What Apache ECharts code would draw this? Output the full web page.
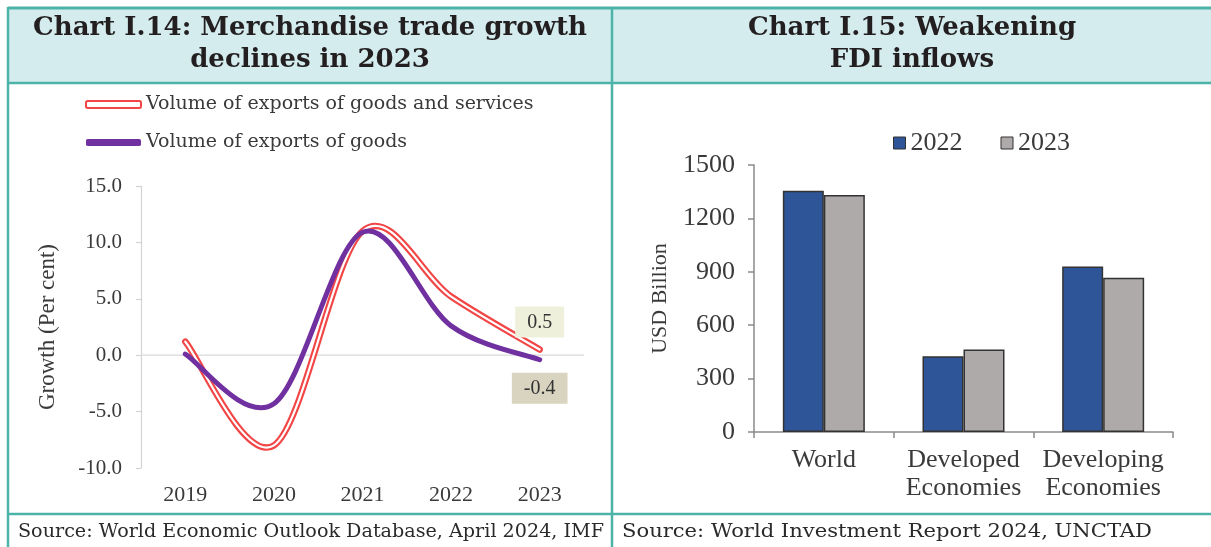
<!DOCTYPE html>
<html>
<head>
<meta charset="utf-8">
<script src="https://cdn.jsdelivr.net/npm/echarts@6/dist/echarts.min.js"></script>
<style>
html,body{margin:0;padding:0;background:#fff;}
#c{width:1211px;height:547px;}
</style>
</head>
<body>
<div id="c"></div>
<script>
// ---- Data ----
const lineCategories = ['2019', '2020', '2021', '2022', '2023'];
const goodsAndServices = [1.2, -8.0, 11.0, 5.2, 0.5];
const goodsOnly = [0.1, -4.3, 10.9, 2.6, -0.4];
const lineSeriesNames = ['Volume of exports of goods and services', 'Volume of exports of goods'];

const barCategories = ['World', 'Developed\nEconomies', 'Developing\nEconomies'];
const fdi2022 = [1356, 426, 930];
const fdi2023 = [1332, 464, 867];
const barSeriesNames = ['2022', '2023'];

const titleLeft = 'Chart I.14: Merchandise trade growth\ndeclines in 2023';
const titleRight = 'Chart I.15: Weakening\nFDI inflows';
const sourceLeft = 'Source: World Economic Outlook Database, April 2024, IMF';
const sourceRight = 'Source: World Investment Report 2024, UNCTAD';
const yNameLeft = 'Growth (Per cent)';
const yNameRight = 'USD Billion';

// ---- Styles ----
const TEAL = '#4bb3a8';
const HEAD_BG = '#d4ecee';
const TXT = '#3a3a3a';
const SERIF = '"Liberation Serif", "Times New Roman", serif';
const RED = '#f24545';
const PURPLE = '#7030a0';

function measure(text, font) {
  const cv = document.createElement('canvas').getContext('2d');
  cv.font = font;
  return cv.measureText(text).width;
}
const footFont = '19px "DejaVu Serif"';
const footScaleL = 586 / measure(sourceLeft, footFont);
const footScaleR = 530 / measure(sourceRight, footFont);

// Excel-like (Catmull-Rom) smoothed path through pixel points
function smoothPath(pts) {
  let d = 'M' + pts[0][0] + ',' + pts[0][1];
  for (let i = 0; i < pts.length - 1; i++) {
    const p0 = pts[Math.max(i - 1, 0)], p1 = pts[i], p2 = pts[i + 1], p3 = pts[Math.min(i + 2, pts.length - 1)];
    const c1 = [p1[0] + (p2[0] - p0[0]) / 6, p1[1] + (p2[1] - p0[1]) / 6];
    const c2 = [p2[0] - (p3[0] - p1[0]) / 6, p2[1] - (p3[1] - p1[1]) / 6];
    d += ' C' + c1[0] + ',' + c1[1] + ' ' + c2[0] + ',' + c2[1] + ' ' + p2[0] + ',' + p2[1];
  }
  return d;
}

function endLabel(pt, text, above, bg) {
  return {
    type: 'text', x: pt[0], y: above ? pt[1] - 12 : pt[1] + 13, z2: 50,
    style: {
      text: text, font: '20px ' + SERIF, fill: '#333',
      align: 'center', verticalAlign: above ? 'bottom' : 'top',
      backgroundColor: bg, padding: [6, 12, 5, 12]
    }
  };
}

const chart = echarts.init(document.getElementById('c'), null, {renderer: 'canvas'});

const option = {
  animation: false,
  backgroundColor: '#fff',
  graphic: [
    {type: 'rect', silent: true, z: -10, shape: {x: 8, y: 8, width: 1203, height: 75}, style: {fill: HEAD_BG}},
    {type: 'line', silent: true, shape: {x1: 8, y1: 8, x2: 1211, y2: 8}, style: {stroke: TEAL, lineWidth: 3}},
    {type: 'line', silent: true, shape: {x1: 8, y1: 83, x2: 1211, y2: 83}, style: {stroke: TEAL, lineWidth: 2.5}},
    {type: 'line', silent: true, shape: {x1: 8, y1: 514, x2: 1211, y2: 514}, style: {stroke: TEAL, lineWidth: 2.5}},
    {type: 'line', silent: true, shape: {x1: 8, y1: 7, x2: 8, y2: 547}, style: {stroke: TEAL, lineWidth: 2.5}},
    {type: 'line', silent: true, shape: {x1: 612, y1: 7, x2: 612, y2: 547}, style: {stroke: TEAL, lineWidth: 2.5}},
    {type: 'text', silent: true, x: 310, y: 44, style: {text: titleLeft, font: '700 26px "DejaVu Serif"', fill: '#231f20', textAlign: 'center', textVerticalAlign: 'middle', lineHeight: 32}},
    {type: 'text', silent: true, x: 912, y: 44, style: {text: titleRight, font: '700 26px "DejaVu Serif"', fill: '#231f20', textAlign: 'center', textVerticalAlign: 'middle', lineHeight: 32}},
    {type: 'text', silent: true, x: 18, y: 532, scaleX: footScaleL, style: {text: sourceLeft, font: footFont, fill: '#2a2a2a', textAlign: 'left', textVerticalAlign: 'middle'}},
    {type: 'text', silent: true, x: 622, y: 532, scaleX: footScaleR, style: {text: sourceRight, font: footFont, fill: '#2a2a2a', textAlign: 'left', textVerticalAlign: 'middle'}}
  ],
  legend: [
    {
      orient: 'vertical', left: 80, top: 90, itemWidth: 55, itemHeight: 7, itemGap: 19,
      textStyle: {fontSize: 19, fontFamily: '"DejaVu Serif"', color: TXT},
      data: [
        {name: lineSeriesNames[0], icon: 'roundRect', itemStyle: {color: '#fff', borderColor: RED, borderWidth: 2}},
        {name: lineSeriesNames[1], icon: 'roundRect', itemStyle: {color: PURPLE, borderWidth: 0}}
      ],
      selectedMode: false
    },
    {
      left: 888, top: 125, itemWidth: 12, itemHeight: 12, itemGap: 38, icon: 'rect',
      textStyle: {fontSize: 26, fontFamily: SERIF, color: TXT},
      itemStyle: {borderColor: '#333', borderWidth: 1},
      data: barSeriesNames, selectedMode: false
    }
  ],
  grid: [
    {left: 141, right: 627, top: 186, bottom: 79},
    {left: 754, right: 38, top: 165, bottom: 115}
  ],
  xAxis: [
    {
      gridIndex: 0, type: 'category', data: lineCategories, boundaryGap: true,
      axisLine: {show: false}, axisTick: {show: false},
      axisLabel: {fontSize: 22, fontFamily: SERIF, color: TXT, margin: 16, interval: 0}
    },
    {
      gridIndex: 1, type: 'category', data: barCategories,
      axisLine: {show: true, lineStyle: {color: '#8a8a8a', width: 1.5}},
      axisTick: {show: true, length: 6, lineStyle: {color: '#8a8a8a', width: 1.5}},
      axisLabel: {fontSize: 26, fontFamily: SERIF, color: TXT, margin: 14, lineHeight: 28, interval: 0, hideOverlap: false}
    }
  ],
  yAxis: [
    {
      gridIndex: 0, type: 'value', min: -10, max: 15, interval: 5,
      name: yNameLeft, nameLocation: 'middle', nameGap: 82, nameRotate: 90,
      nameTextStyle: {fontSize: 23, fontFamily: SERIF, color: TXT},
      axisLine: {show: true, lineStyle: {color: '#d4d4d4', width: 1.2}},
      axisTick: {show: true, length: 5, lineStyle: {color: '#d4d4d4', width: 1.2}},
      splitLine: {show: false},
      axisLabel: {fontSize: 21, fontFamily: SERIF, color: TXT, margin: 19, formatter: (v) => v.toFixed(1)}
    },
    {
      gridIndex: 1, type: 'value', min: 0, max: 1500, interval: 300,
      name: yNameRight, nameLocation: 'middle', nameGap: 83, nameRotate: 90,
      nameTextStyle: {fontSize: 22, fontFamily: SERIF, color: TXT},
      axisLine: {show: true, lineStyle: {color: '#8a8a8a', width: 1.5}},
      axisTick: {show: true, length: 6, lineStyle: {color: '#8a8a8a', width: 1.5}},
      splitLine: {show: false},
      axisLabel: {fontSize: 26, fontFamily: SERIF, color: TXT, margin: 19, formatter: (v) => String(v)}
    }
  ],
  series: [
    {
      name: lineSeriesNames[0], type: 'custom', xAxisIndex: 0, yAxisIndex: 0,
      data: [[0, goodsAndServices[0]]], z: 2, silent: true,
      renderItem: function (params, api) {
        const pts = goodsAndServices.map((v, i) => api.coord([i, v]));
        const cs = params.coordSys;
        const y0 = api.coord([0, 0])[1];
        const last = goodsAndServices.length - 1;
        const d = smoothPath(pts);
        return {
          type: 'group', children: [
            {type: 'line', shape: {x1: cs.x, y1: y0, x2: cs.x + cs.width, y2: y0}, style: {stroke: '#d9d9d9', lineWidth: 1.2}},
            {type: 'path', shape: {pathData: d}, style: {fill: 'none', stroke: RED, lineWidth: 6.5, lineCap: 'round', lineJoin: 'round'}},
            {type: 'path', shape: {pathData: d}, style: {fill: 'none', stroke: '#ffffff', lineWidth: 2.2, lineCap: 'round', lineJoin: 'round'}},
            endLabel(pts[last], goodsAndServices[last].toFixed(1), true, '#eef0dc')
          ]
        };
      }
    },
    {
      name: lineSeriesNames[1], type: 'custom', xAxisIndex: 0, yAxisIndex: 0,
      data: [[0, goodsOnly[0]]], z: 4, silent: true,
      renderItem: function (params, api) {
        const pts = goodsOnly.map((v, i) => api.coord([i, v]));
        const last = goodsOnly.length - 1;
        return {
          type: 'group', children: [
            {type: 'path', shape: {pathData: smoothPath(pts)}, style: {fill: 'none', stroke: PURPLE, lineWidth: 5, lineCap: 'round', lineJoin: 'round'}},
            endLabel(pts[last], goodsOnly[last].toFixed(1), false, '#d9d4c0')
          ]
        };
      }
    },
    {
      name: barSeriesNames[0], type: 'bar', xAxisIndex: 1, yAxisIndex: 1,
      barWidth: 41, barGap: '0%',
      itemStyle: {color: '#2e5597', borderColor: '#333', borderWidth: 1.5},
      data: fdi2022
    },
    {
      name: barSeriesNames[1], type: 'bar', xAxisIndex: 1, yAxisIndex: 1,
      barWidth: 41, barGap: '0%',
      itemStyle: {color: '#aeaaaa', borderColor: '#333', borderWidth: 1.5},
      data: fdi2023
    }
  ]
};
chart.setOption(option);
</script>
</body>
</html>
